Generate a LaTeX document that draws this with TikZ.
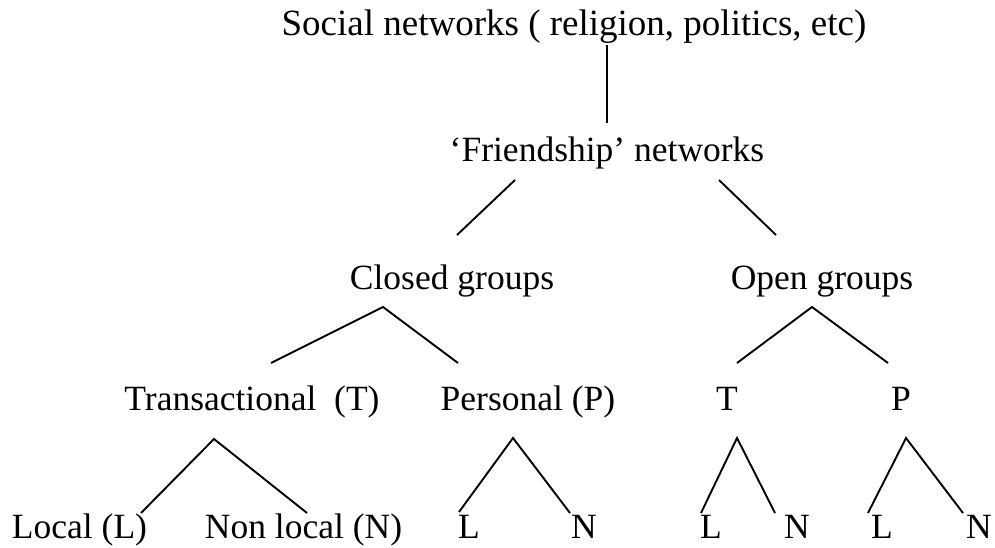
\documentclass[tikz,border=0pt]{standalone}
\usepackage{fontspec}
\setmainfont{Liberation Serif}
\begin{document}
\begin{tikzpicture}[x=1pt,y=-1pt,
  lbl/.style={anchor=base,inner sep=0pt,font=\fontsize{35.5}{40}\selectfont},
  conn/.style={line width=1.9pt,line cap=butt}]
\useasboundingbox (0,0) rectangle (995,548);
% labels
\node[lbl,font=\fontsize{37}{42}\selectfont] (soc) at (574,36) {Social networks ( religion, politics, etc)};
\node[lbl] (fri) at (607,162) {‘Friendship’ networks};
\node[lbl] (closed) at (452,289) {Closed groups};
\node[lbl] (open) at (822,289) {Open groups};
\node[lbl] (trans) at (252,410) {Transactional\ \ (T)};
\node[lbl] (pers) at (528,410) {Personal (P)};
\node[lbl] (ot) at (727,410) {T};
\node[lbl] (op) at (901,410) {P};
\node[lbl] (local) at (79.5,538) {Local (L)};
\node[lbl] (nonlocal) at (303.5,538) {Non local (N)};
\node[lbl] (pl) at (469,538) {L};
\node[lbl] (pn) at (584,538) {N};
\node[lbl] (tl) at (711,538) {L};
\node[lbl] (tn) at (797,538) {N};
\node[lbl] (ppl) at (882,538) {L};
\node[lbl] (ppn) at (979,538) {N};
% connector end points
\coordinate (socB) at (607,45);  \coordinate (friT) at (607,123);
\coordinate (friL) at (515,180); \coordinate (closedT) at (457,235);
\coordinate (friR) at (719,180); \coordinate (openT) at (776,235);
\coordinate (closedB) at (383,307); \coordinate (transT) at (271,363); \coordinate (persT) at (458,363);
\coordinate (openB) at (812,307); \coordinate (otT) at (737,363); \coordinate (opT) at (888,363);
\coordinate (transB) at (214,439); \coordinate (localT) at (141,513); \coordinate (nonlocalT) at (307,513);
\coordinate (persB) at (513,438); \coordinate (plT) at (459,512); \coordinate (pnT) at (570,513);
\coordinate (otB) at (737,438); \coordinate (tlT) at (701,513); \coordinate (tnT) at (775,513);
\coordinate (opB) at (906,438); \coordinate (pplT) at (868,513); \coordinate (ppnT) at (963,513);
% connectors
\draw[conn] (socB) -- (friT);
\draw[conn] (friL) -- (closedT);
\draw[conn] (friR) -- (openT);
\draw[conn] (transT) -- (closedB) -- (persT);
\draw[conn] (otT) -- (openB) -- (opT);
\draw[conn] (localT) -- (transB) -- (nonlocalT);
\draw[conn] (plT) -- (persB) -- (pnT);
\draw[conn] (tlT) -- (otB) -- (tnT);
\draw[conn] (pplT) -- (opB) -- (ppnT);
\end{tikzpicture}
\end{document}
